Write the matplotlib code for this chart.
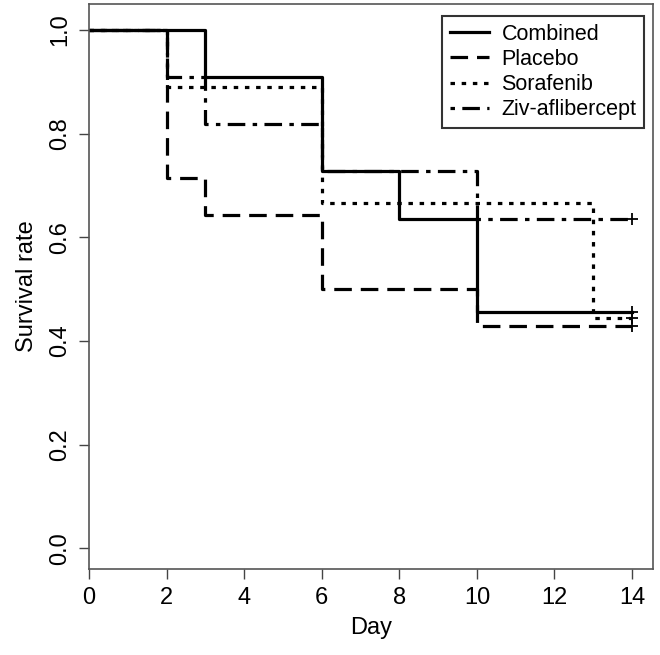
import matplotlib
matplotlib.use("Agg")
import matplotlib.pyplot as plt

plt.rcParams['font.family'] = ['Liberation Sans', 'DejaVu Sans']

# Kaplan-Meier step data (time of drop, survival after drop)
combined_t = [0, 3, 6, 8, 10, 14]
combined_s = [1.0, 0.909, 0.727, 0.636, 0.455, 0.455]

placebo_t = [0, 2, 3, 6, 10, 14]
placebo_s = [1.0, 0.714, 0.643, 0.5, 0.429, 0.429]

sorafenib_t = [0, 2, 6, 13, 14]
sorafenib_s = [1.0, 0.889, 0.667, 0.444, 0.444]

ziv_t = [0, 2, 3, 6, 10, 14]
ziv_s = [1.0, 0.909, 0.818, 0.727, 0.636, 0.636]

labels = ["Combined", "Placebo", "Sorafenib", "Ziv-aflibercept"]
x_ticks = [0, 2, 4, 6, 8, 10, 12, 14]
y_ticks = [0.0, 0.2, 0.4, 0.6, 0.8, 1.0]

fig = plt.figure(figsize=(6.6, 6.55), dpi=100)
ax = fig.add_axes([0.1348, 0.1313, 0.8546, 0.8626])

lw = 2.3
styles = [
    '-',
    (0, (5.5, 2.8)),
    (0, (1.4, 2.1)),
    (0, (1.4, 2.3, 5.5, 2.3)),
]
series = [(combined_t, combined_s), (placebo_t, placebo_s),
          (sorafenib_t, sorafenib_s), (ziv_t, ziv_s)]

for (t, s), ls, lab in zip(series, styles, labels):
    ax.step(t, s, where='post', color='black', lw=lw, linestyle=ls,
            label=lab, dash_capstyle='butt')
    # censor mark at end of follow-up
    ax.plot(t[-1], s[-1], marker='+', color='black', ms=9, mew=1.3,
            linestyle='none')

ax.set_xlim(0, 14.54)
ax.set_ylim(-0.04, 1.05)
ax.set_xticks(x_ticks)
ax.set_yticks(y_ticks)
ax.set_xticklabels([str(v) for v in x_ticks], fontsize=17)
ax.set_yticklabels(["%.1f" % v for v in y_ticks], fontsize=17,
                   rotation=90, va='center')
ax.tick_params(direction='out', length=7, width=1, color='#444444', pad=6)
ax.set_xlabel("Day", fontsize=17, labelpad=6)
ax.set_ylabel("Survival rate", fontsize=17, labelpad=8)
for sp in ax.spines.values():
    sp.set_color('#555555')
    sp.set_linewidth(1.2)

leg = ax.legend(loc='upper right', bbox_to_anchor=(0.9758, 0.9756),
                bbox_transform=fig.transFigure, borderaxespad=0,
                fontsize=15.5, frameon=True, fancybox=False,
                edgecolor='black', handlelength=1.8, handletextpad=0.6,
                borderpad=0.35, labelspacing=0.2)
leg.get_frame().set_linewidth(1.5)

fig.savefig("out.png", dpi=100)
